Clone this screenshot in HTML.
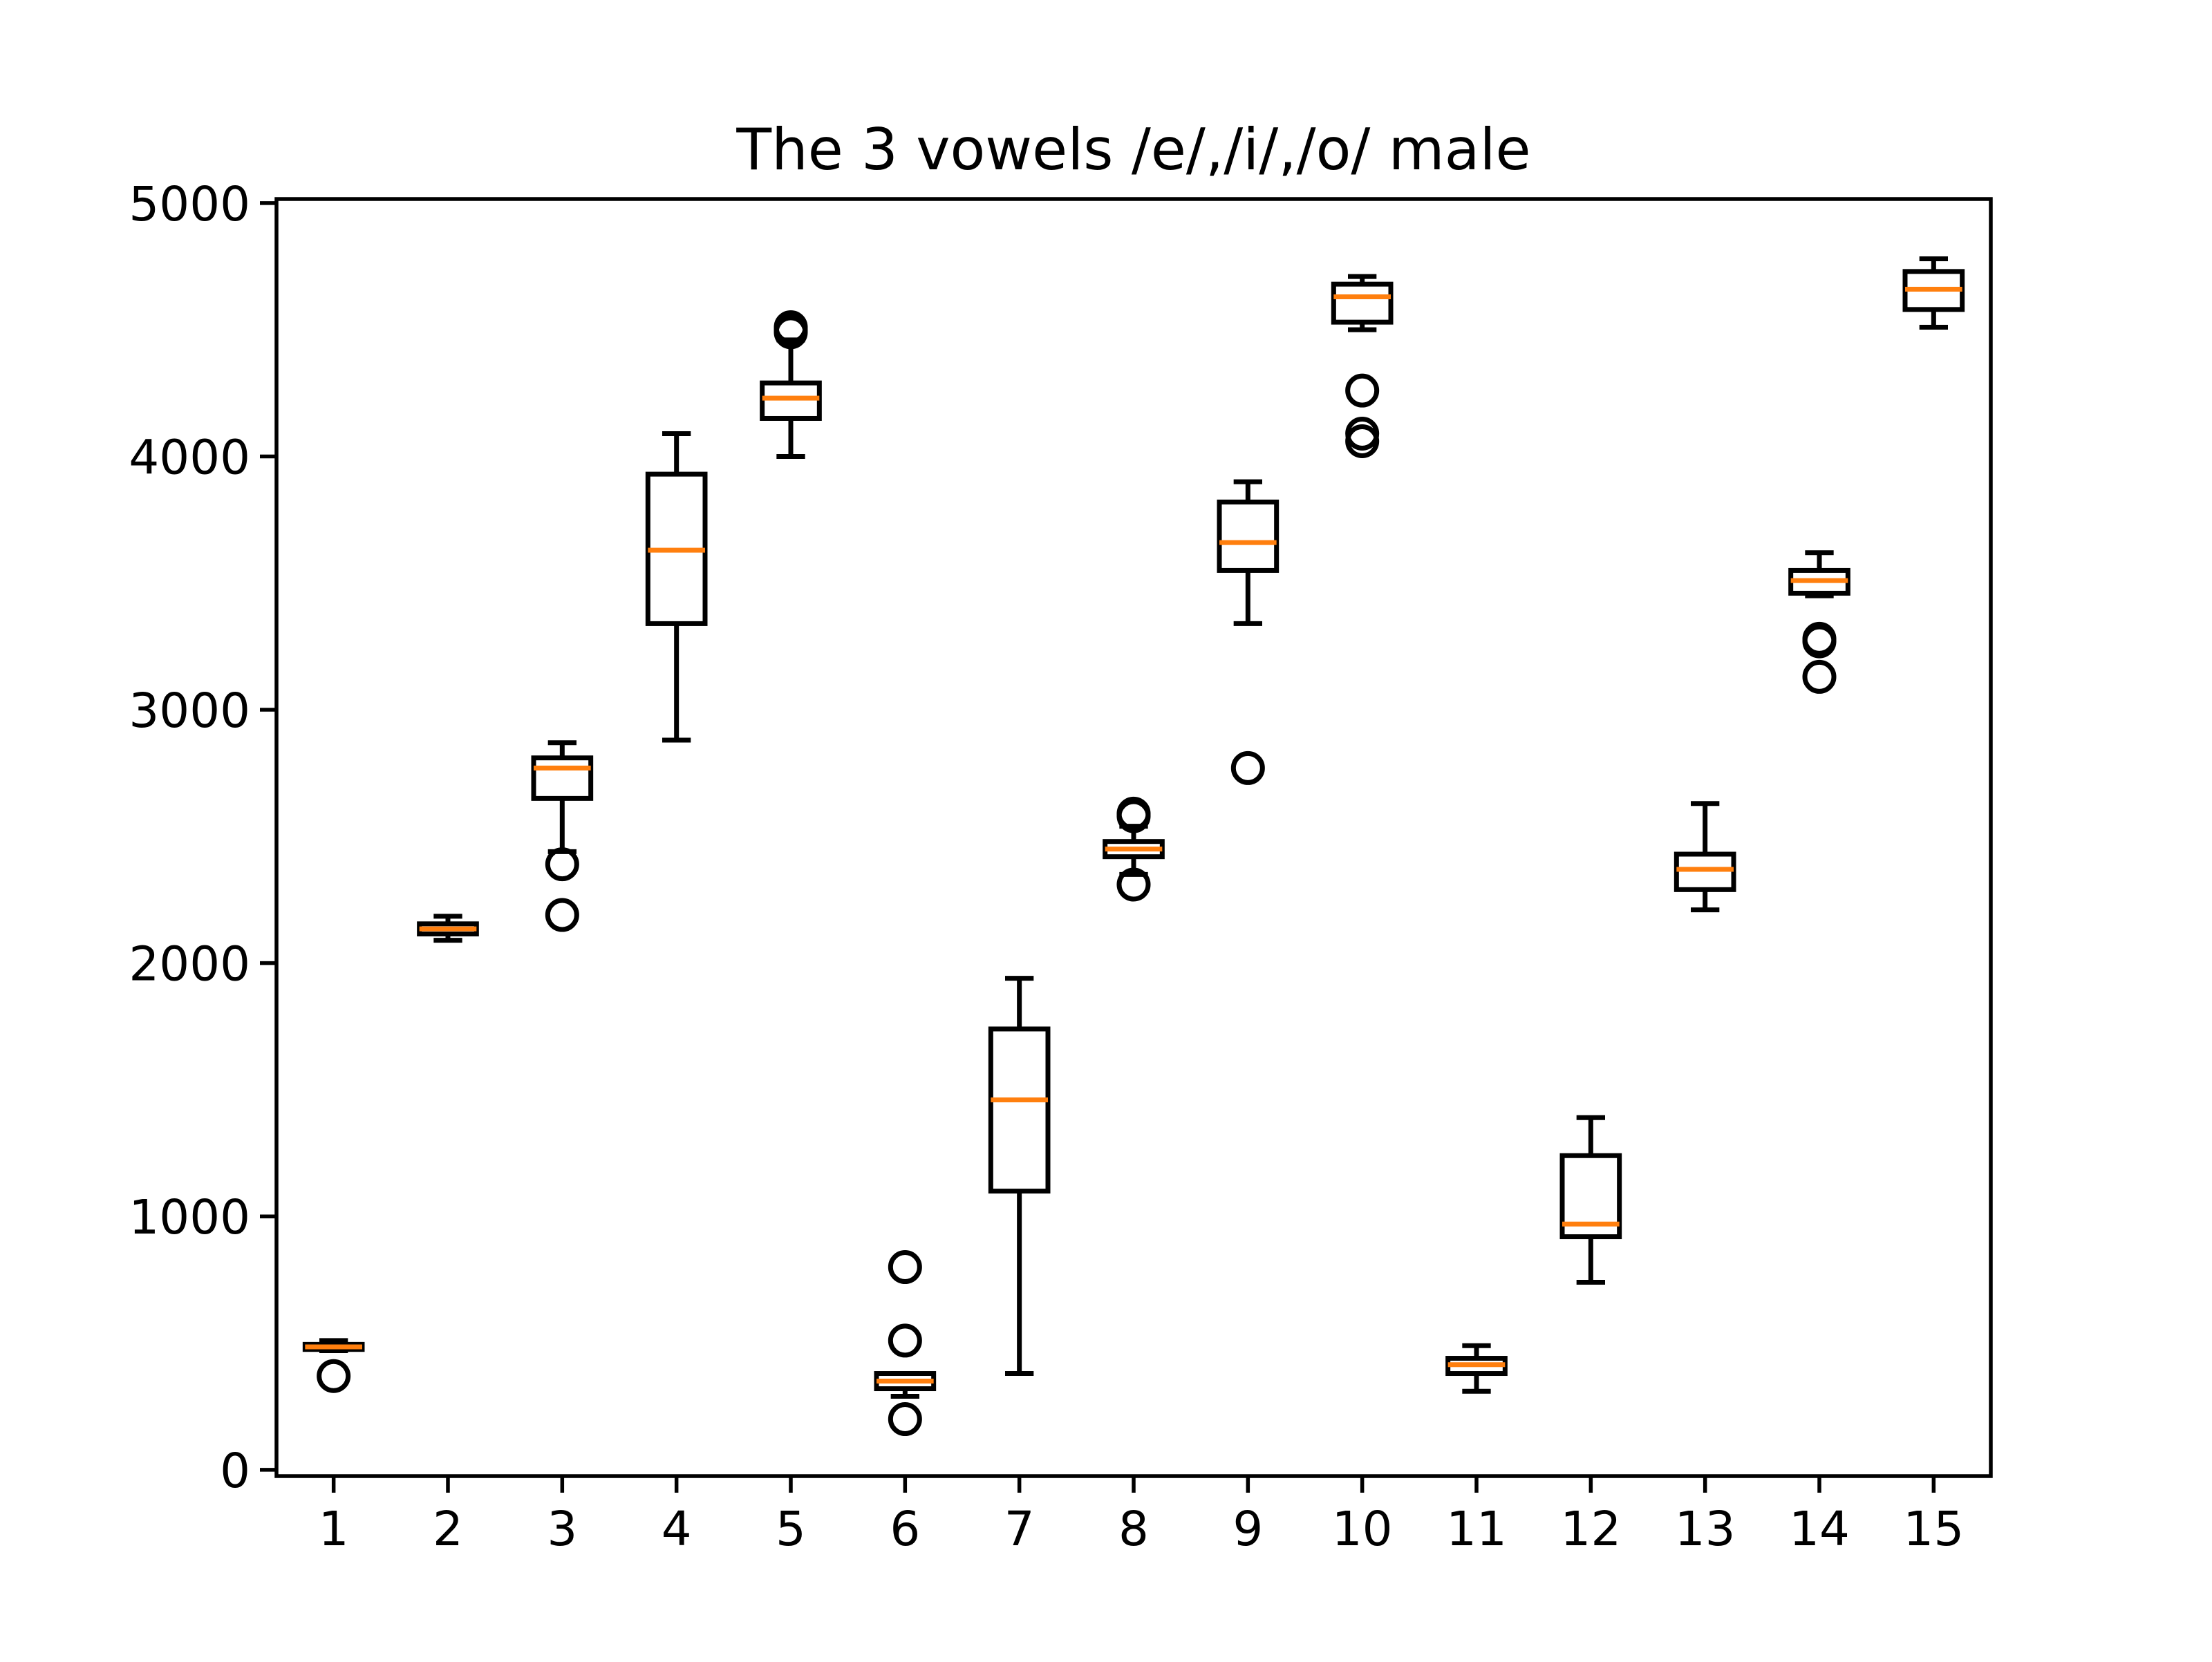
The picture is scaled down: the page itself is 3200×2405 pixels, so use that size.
<!DOCTYPE html>
<html><head><meta charset="utf-8"><style>
html,body{margin:0;padding:0;background:#fff;}
svg text{font-family:"DejaVu Sans","Liberation Sans",sans-serif;fill:#000;}
</style></head><body>
<svg id="chart" width="3200" height="2400" viewBox="0 0 3200 2400" xmlns="http://www.w3.org/2000/svg">
<rect width="3200" height="2400" fill="#fff"/>
<text x="1640" y="245" font-size="83" text-anchor="middle">The 3 vowels /e/,/i/,/o/ male</text>
<g id="marks"></g>
<g id="axes"></g>
</svg>
<script>
const categories = [1,2,3,4,5,6,7,8,9,10,11,12,13,14,15];
const whisLo = [470,2090,2440,2880,4000,290,380,2350,3340,4500,310,740,2210,3450,4510];
const q1Vals = [475,2115,2650,3340,4150,320,1100,2420,3550,4530,380,920,2290,3460,4580];
const medians = [485,2135,2770,3630,4230,350,1460,2450,3660,4630,415,970,2370,3510,4660];
const q3Vals = [495,2155,2810,3930,4290,380,1740,2480,3820,4680,440,1240,2430,3550,4730];
const whisHi = [510,2185,2870,4090,4460,380,1940,2540,3900,4710,490,1390,2630,3620,4780];
const outliers = [[370],[],[2390,2190],[],[4490,4510,4500],[200,510,800],[],[2310,2590,2580],[2770],[4260,4090,4060],[],[],[],[3280,3270,3130],[]];
const yTicks = [0,1000,2000,3000,4000,5000];

const L=400,R=2880,T=288,B=2136;
const xMin=0.5,xMax=15.5,yMin=-25,yMax=5016;
const sx=v=>L+(v-xMin)/(xMax-xMin)*(R-L);
const sy=v=>B-(v-yMin)/(yMax-yMin)*(B-T);
const NS="http://www.w3.org/2000/svg";
function mk(parent,tag,attrs){const e=document.createElementNS(NS,tag);for(const k in attrs)e.setAttribute(k,attrs[k]);parent.appendChild(e);return e;}
const marks=document.getElementById('marks'),axes=document.getElementById('axes');
const lw=7;
categories.forEach((c,i)=>{
  const g=mk(marks,'g',{});
  
  
  const x=sx(c),hw=sx(c+0.25)-x,cw=sx(c+0.125)-x;
  const st={stroke:'#000','stroke-width':lw,fill:'none'};
  mk(g,'line',Object.assign({x1:x,x2:x,y1:sy(q1Vals[i]),y2:sy(whisLo[i])},st));
  mk(g,'line',Object.assign({x1:x,x2:x,y1:sy(q3Vals[i]),y2:sy(whisHi[i])},st));
  mk(g,'line',Object.assign({x1:x-cw,x2:x+cw,y1:sy(whisLo[i]),y2:sy(whisLo[i])},st));
  mk(g,'line',Object.assign({x1:x-cw,x2:x+cw,y1:sy(whisHi[i]),y2:sy(whisHi[i])},st));
  mk(g,'rect',Object.assign({x:x-hw,y:sy(q3Vals[i]),width:2*hw,height:sy(q1Vals[i])-sy(q3Vals[i])},st));
  const m=mk(g,'line',{x1:x-hw,x2:x+hw,y1:sy(medians[i]),y2:sy(medians[i]),stroke:'#ff7f0e','stroke-width':lw});
  
  
  outliers[i].forEach(v=>{
    const o=mk(g,'circle',{cx:x,cy:sy(v),r:21,fill:'none',stroke:'#000','stroke-width':lw});
    
    
  });
  const t=mk(axes,'line',{x1:x,x2:x,y1:B,y2:B+24,stroke:'#000','stroke-width':5.5});
  const lb=mk(axes,'text',{x:x,y:B+100,'font-size':69,'text-anchor':'middle'});
  lb.textContent=c;
  
  
});
yTicks.forEach(v=>{
  const y=sy(v);
  mk(axes,'line',{x1:L-24,x2:L,y1:y,y2:y,stroke:'#000','stroke-width':5.5});
  const lb=mk(axes,'text',{x:L-38,y:y+25,'font-size':69,'text-anchor':'end'});
  lb.textContent=v;
  
  
});
const frame=mk(axes,'rect',{x:L,y:T,width:R-L,height:B-T,fill:'none',stroke:'#000','stroke-width':5.5});


</script>
</body></html>
